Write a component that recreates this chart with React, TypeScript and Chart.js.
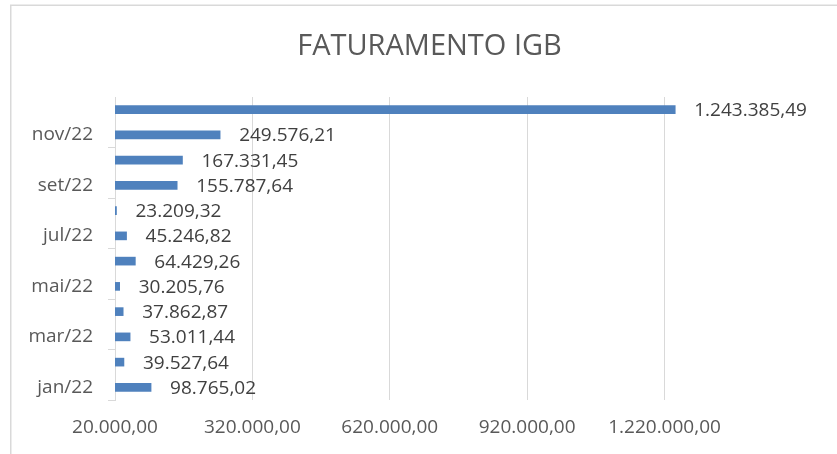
import React, { useEffect, useRef } from "react";
import { Chart, registerables } from "chart.js";

Chart.register(...registerables);

const categories = ["jan/22", "fev/22", "mar/22", "abr/22", "mai/22", "jun/22", "jul/22", "ago/22", "set/22", "out/22", "nov/22", "dez/22"];
const faturamento = [98765.02, 39527.64, 53011.44, 37862.87, 30205.76, 64429.26, 45246.82, 23209.32, 155787.64, 167331.45, 249576.21, 1243385.49];
const xTickValues = [20000, 320000, 620000, 920000, 1220000];
const xMin = 20000;
const xMax = 1280000;
const chartTitle = "FATURAMENTO IGB";

const FONT = "'Open Sans', 'Noto Sans', sans-serif";

function fmtBR(v: number): string {
  const fixed = Math.abs(v).toFixed(2);
  const [intPart, dec] = fixed.split(".");
  const withDots = intPart.replace(/\B(?=(\d{3})+(?!\d))/g, ".");
  return (v < 0 ? "-" : "") + withDots + "," + dec;
}

const framePlugin = {
  id: "frame",
  beforeDraw(chart: any) {
    const ctx = chart.ctx;
    ctx.save();
    ctx.fillStyle = "#ffffff";
    ctx.fillRect(0, 0, chart.width, chart.height);
    ctx.strokeStyle = "#d9d9d9";
    ctx.lineWidth = 1.5;
    ctx.beginPath();
    ctx.moveTo(10.75, chart.height + 2);
    ctx.lineTo(10.75, 5.25);
    ctx.lineTo(chart.width + 2, 5.25);
    ctx.stroke();
    // title, centred on the whole chart frame
    ctx.font = `29px ${FONT}`;
    ctx.fillStyle = "#595959";
    ctx.textAlign = "center";
    ctx.textBaseline = "middle";
    ctx.fillText(chartTitle, (10 + chart.width + 12) / 2, 47);
    ctx.restore();
  },
};

const valueLabelPlugin = {
  id: "valueLabels",
  afterDatasetsDraw(chart: any) {
    const ctx = chart.ctx;
    const meta = chart.getDatasetMeta(0);
    const data = chart.data.datasets[0].data as number[];
    ctx.save();
    ctx.font = `19px ${FONT}`;
    ctx.fillStyle = "#404040";
    ctx.textAlign = "left";
    ctx.textBaseline = "middle";
    meta.data.forEach((bar: any, i: number) => {
      ctx.fillText(fmtBR(data[i]), bar.x + 19, bar.y + 1);
    });
    ctx.restore();
  },
};

export default function App() {
  const canvasRef = useRef<HTMLCanvasElement | null>(null);

  useEffect(() => {
    if (!canvasRef.current) return;
    const chart = new Chart(canvasRef.current, {
      type: "bar",
      data: {
        labels: categories,
        datasets: [
          {
            label: "Faturamento",
            data: faturamento,
            backgroundColor: "#4f81bd",
            barThickness: 8,
          },
        ],
      },
      options: {
        indexAxis: "y",
        responsive: false,
        animation: false,
        layout: { padding: { left: 0, right: 145, top: 97, bottom: 0 } },
        plugins: {
          legend: { display: false },
          tooltip: { enabled: false },
          title: { display: false },
        },
        scales: {
          x: {
            type: "linear",
            min: xMin,
            max: xMax,
            afterBuildTicks: (scale: any) => {
              scale.ticks = xTickValues.map((v) => ({ value: v }));
            },
            afterFit: (scale: any) => {
              scale.height = 54;
            },
            ticks: {
              color: "#595959",
              font: { family: FONT, size: 19 },
              padding: 16,
              maxRotation: 0,
              callback: (v: any) => fmtBR(Number(v)),
            },
            grid: { color: "#d9d9d9", drawTicks: false, lineWidth: 1 },
            border: { display: false },
          },
          y: {
            type: "category",
            reverse: true,
            afterFit: (scale: any) => {
              scale.width = 115;
            },
            ticks: {
              autoSkip: false,
              color: "#595959",
              font: { family: FONT, size: 19 },
              padding: 15,
              callback: (_v: any, idx: number) => (idx % 2 === 0 ? categories[idx] : ""),
            },
            grid: {
              drawOnChartArea: false,
              drawTicks: true,
              tickLength: 7,
              tickColor: (ctx: any) => (ctx.index % 2 === 0 ? "#d9d9d9" : "rgba(0,0,0,0)"),
              color: "#d9d9d9",
            },
            border: { display: true, color: "#d9d9d9", width: 1 },
          },
        },
      },
      plugins: [framePlugin, valueLabelPlugin],
    });
    return () => chart.destroy();
  }, []);

  return (
    <canvas
      ref={canvasRef}
      width={837}
      height={454}
      style={{ position: "fixed", left: 0, top: 0, display: "block" }}
    />
  );
}
